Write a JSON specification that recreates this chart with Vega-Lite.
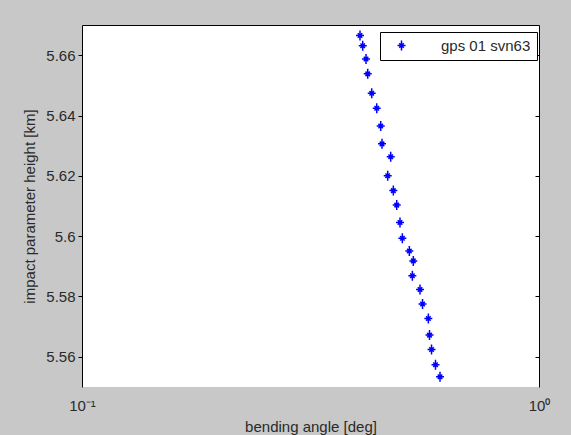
{
  "$schema": "https://vega.github.io/schema/vega-lite/v6.json",
  "width": 457,
  "height": 362,
  "autosize": {"type": "none"},
  "padding": {"left": 82, "top": 25, "right": 32, "bottom": 48},
  "background": "#c8c8c8",
  "config": {
    "view": {"fill": "white", "stroke": null},
    "font": "Liberation Sans",
    "axis": {"labelFont": "Liberation Sans", "titleFont": "Liberation Sans", "labelColor": "#2a2a2a", "titleColor": "#2a2a2a", "titleFontWeight": "normal", "grid": false}
  },
  "data": {
    "values": [
      {"angle": 0.4058, "height": 5.6665, "series": "gps 01 svn63"},
      {"angle": 0.4114, "height": 5.6631, "series": "gps 01 svn63"},
      {"angle": 0.4183, "height": 5.6587, "series": "gps 01 svn63"},
      {"angle": 0.4219, "height": 5.6538, "series": "gps 01 svn63"},
      {"angle": 0.4305, "height": 5.6474, "series": "gps 01 svn63"},
      {"angle": 0.4415, "height": 5.6424, "series": "gps 01 svn63"},
      {"angle": 0.4504, "height": 5.6365, "series": "gps 01 svn63"},
      {"angle": 0.4534, "height": 5.6306, "series": "gps 01 svn63"},
      {"angle": 0.4737, "height": 5.6263, "series": "gps 01 svn63"},
      {"angle": 0.4666, "height": 5.6200, "series": "gps 01 svn63"},
      {"angle": 0.4800, "height": 5.6151, "series": "gps 01 svn63"},
      {"angle": 0.4883, "height": 5.6103, "series": "gps 01 svn63"},
      {"angle": 0.4964, "height": 5.6045, "series": "gps 01 svn63"},
      {"angle": 0.5023, "height": 5.5993, "series": "gps 01 svn63"},
      {"angle": 0.5203, "height": 5.5951, "series": "gps 01 svn63"},
      {"angle": 0.5308, "height": 5.5918, "series": "gps 01 svn63"},
      {"angle": 0.5283, "height": 5.5869, "series": "gps 01 svn63"},
      {"angle": 0.5491, "height": 5.5823, "series": "gps 01 svn63"},
      {"angle": 0.5561, "height": 5.5775, "series": "gps 01 svn63"},
      {"angle": 0.5726, "height": 5.5727, "series": "gps 01 svn63"},
      {"angle": 0.5760, "height": 5.5672, "series": "gps 01 svn63"},
      {"angle": 0.5819, "height": 5.5624, "series": "gps 01 svn63"},
      {"angle": 0.5936, "height": 5.5574, "series": "gps 01 svn63"},
      {"angle": 0.6073, "height": 5.5534, "series": "gps 01 svn63"}
    ]
  },
  "layer": [
    {
      "mark": {"type": "point", "shape": "M0,-1L0,1M-0.8,0L0.8,0M-0.45,-0.45L0.45,0.45M-0.45,0.45L0.45,-0.45", "filled": false, "size": 100, "strokeWidth": 1.5, "opacity": 1},
      "encoding": {
        "x": {
          "field": "angle", "type": "quantitative",
          "scale": {"type": "log", "domain": [0.1, 1], "nice": false},
          "axis": {"orient": "bottom", "values": [0.1, 1], "labelExpr": "datum.value >= 0.99 ? '10⁰' : '10⁻¹'", "labelFlush": false, "domain": false, "ticks": false, "labelPadding": 11, "labelFontSize": 15, "title": "bending angle [deg]", "titleFontSize": 15, "titlePadding": 6}
        },
        "y": {
          "field": "height", "type": "quantitative",
          "scale": {"domain": [5.55, 5.67], "nice": false, "zero": false},
          "axis": {"orient": "left", "values": [5.56, 5.58, 5.6, 5.62, 5.64, 5.66], "labelExpr": "datum.value == 5.6 ? '5.6' : format(datum.value, '.2f')", "domainColor": "black", "tickColor": "black", "tickSize": 4, "labelPadding": 3, "labelFontSize": 15, "title": "impact parameter height [km]", "titleFontSize": 15, "titlePadding": 8}
        },
        "color": {
          "field": "series", "type": "nominal",
          "scale": {"range": ["#0000ff"]},
          "legend": {
            "title": null, "orient": "none", "legendX": 298, "legendY": 7,
            "strokeColor": "black", "fillColor": "white", "padding": 6,
            "symbolType": "M0,-1L0,1M-0.8,0L0.8,0M-0.45,-0.45L0.45,0.45M-0.45,0.45L0.45,-0.45",
            "symbolSize": 100, "symbolStrokeWidth": 1.5, "symbolStrokeColor": "#0000ff", "symbolFillColor": "transparent",
            "symbolOffset": 8, "labelOffset": 32, "labelFontSize": 15, "labelFont": "Liberation Sans", "labelColor": "#2a2a2a"
          }
        }
      }
    },
    {
      "mark": {"type": "point", "opacity": 0},
      "encoding": {
        "x": {
          "field": "angle", "type": "quantitative",
          "axis": {"orient": "top", "labels": false, "ticks": false, "domainColor": "black", "title": null, "values": [0.1, 1]}
        },
        "y": {
          "field": "height", "type": "quantitative",
          "axis": {"orient": "right", "labels": false, "values": [5.56, 5.58, 5.6, 5.62, 5.64, 5.66], "tickSize": -4, "tickColor": "black", "domainColor": "black", "title": null}
        }
      }
    }
  ],
  "resolve": {"axis": {"x": "independent", "y": "independent"}}
}
